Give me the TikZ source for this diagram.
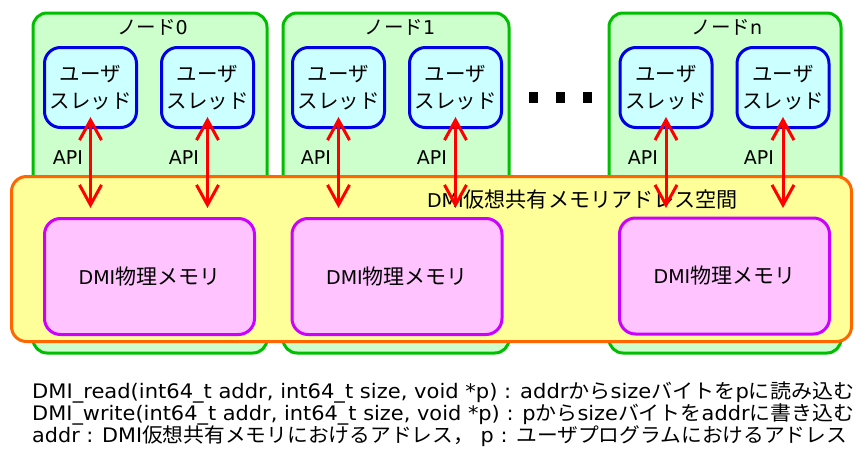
\documentclass[tikz,border=0pt]{standalone}
\usepackage{fontspec}
\usepackage{graphicx}
\setmainfont{DejaVu Sans}
\newfontfamily\jp{Noto Sans CJK JP}
\usetikzlibrary{arrows.meta}
\newcommand\J[1]{{\jp #1}}
\newcommand\JS[2]{{\fontsize{#1}{#1}\jp #2}}
\definecolor{gborder}{RGB}{0,190,0}
\definecolor{gfill}{RGB}{204,255,204}
\definecolor{bborder}{RGB}{0,0,230}
\definecolor{bfill}{RGB}{204,255,255}
\definecolor{yfill}{RGB}{255,255,153}
\definecolor{oborder}{RGB}{255,102,0}
\definecolor{pfill}{RGB}{255,196,255}
\definecolor{pborder}{RGB}{204,0,255}
\definecolor{arrred}{RGB}{255,0,0}
\tikzset{
  nodebox/.style={draw=gborder, fill=gfill, line width=3pt, rounded corners=14pt, inner sep=0pt},
  threadbox/.style={draw=bborder, fill=bfill, line width=3pt, rounded corners=16pt, inner sep=0pt,
    minimum width=92pt, minimum height=80pt, align=center, font=\fontsize{20.5}{27}\selectfont},
  spacebox/.style={draw=oborder, fill=yfill, line width=3pt, rounded corners=15pt, inner sep=0pt},
  membox/.style={draw=pborder, fill=pfill, line width=3pt, rounded corners=16pt, inner sep=0pt,
    minimum width=210pt, minimum height=116pt, font=\fontsize{19}{22}\selectfont},
  titlelabel/.style={inner sep=0pt, font=\fontsize{19}{22}\selectfont},
  apilabel/.style={inner sep=0pt, font=\fontsize{19}{22}\selectfont},
  dotsq/.style={fill=black, inner sep=0pt, minimum width=9pt, minimum height=11pt},
  dmiarrow/.style={arrred, line width=3pt,
    {Straight Barb[length=20pt,width=22pt]}-{Straight Barb[length=20pt,width=22pt]}},
  codeline/.style={inner sep=0pt, anchor=base west, font=\fontsize{20}{22}\selectfont},
}
\begin{document}
\begin{tikzpicture}[x=1pt,y=-1pt]
\useasboundingbox (0,0) rectangle (855,450);
% computer nodes
\node[nodebox, minimum width=234pt, minimum height=340pt] (n0) at (150,183) {};
\node[nodebox, minimum width=226pt, minimum height=340pt] (n1) at (396,183) {};
\node[nodebox, minimum width=232pt, minimum height=340pt] (nn) at (725,183) {};
\node[titlelabel] (l0) at (152.5,27) {\JS{19.5}{ノード}0};
\node[titlelabel] (l1) at (400,27) {\JS{19.5}{ノード}1};
\node[titlelabel] (ln) at (727,27) {\JS{19.5}{ノード}n};
% user threads
\node[threadbox] (t00) at (90.5,87.5) {\J{ユーザ}\\\J{スレッド}};
\node[threadbox] (t01) at (207.5,87.5) {\J{ユーザ}\\\J{スレッド}};
\node[threadbox] (t10) at (338.5,87.5) {\J{ユーザ}\\\J{スレッド}};
\node[threadbox] (t11) at (455.5,87.5) {\J{ユーザ}\\\J{スレッド}};
\node[threadbox] (tn0) at (666,87.5) {\J{ユーザ}\\\J{スレッド}};
\node[threadbox] (tn1) at (783,87.5) {\J{ユーザ}\\\J{スレッド}};
% dots
\node[dotsq] (d1) at (533.5,97.5) {};
\node[dotsq] (d2) at (560.5,97.5) {};
\node[dotsq] (d3) at (587.5,97.5) {};
% shared address space
\node[spacebox, minimum width=840pt, minimum height=165pt] (space) at (431.5,259) {};
\node[titlelabel] (spacelabel) at (582.5,200) {DMI\JS{21.1}{仮想共有メモリアドレス空間}};
% physical memories
\node[membox] (m0) at (149.5,276.5) {DMI\JS{21}{物理メモリ}};
\node[membox] (m1) at (397,276.5) {DMI\JS{21}{物理メモリ}};
\node[membox] (mn) at (724.5,276) {DMI\JS{21}{物理メモリ}};
% API labels
\node[apilabel] (a00) at (68,158) {API};
\node[apilabel] (a01) at (184,158) {API};
\node[apilabel] (a10) at (316,158) {API};
\node[apilabel] (a11) at (432,158) {API};
\node[apilabel] (an0) at (643,158) {API};
\node[apilabel] (an1) at (759,158) {API};
% arrows
\foreach \name/\x in {p00/90.5, p01/207.5, p10/338.5, p11/455.5, pn0/666, pn1/783}{
  \coordinate (\name t) at (\x,117);
  \coordinate (\name b) at (\x,208);
}
\foreach \name in {p00,p01,p10,p11,pn0,pn1}{
  \draw[dmiarrow] (\name t) -- (\name b);
}
% API description
\node[codeline] (c1) at (32,398) {\resizebox{822pt}{\height}{DMI\_read(int64\_t addr, int64\_t size, void *p) : addr\J{から}size\J{バイトを}p\J{に読み込む}}};
\node[codeline] (c2) at (32,420) {\resizebox{822pt}{\height}{DMI\_write(int64\_t addr, int64\_t size, void *p) : p\J{から}size\J{バイトを}addr\J{に書き込む}}};
\node[codeline] (c3) at (32,442) {\resizebox{815pt}{\height}{addr : DMI\J{仮想共有メモリにおけるアドレス，} p : \J{ユーザプログラムにおけるアドレス}}};
\end{tikzpicture}
\end{document}
